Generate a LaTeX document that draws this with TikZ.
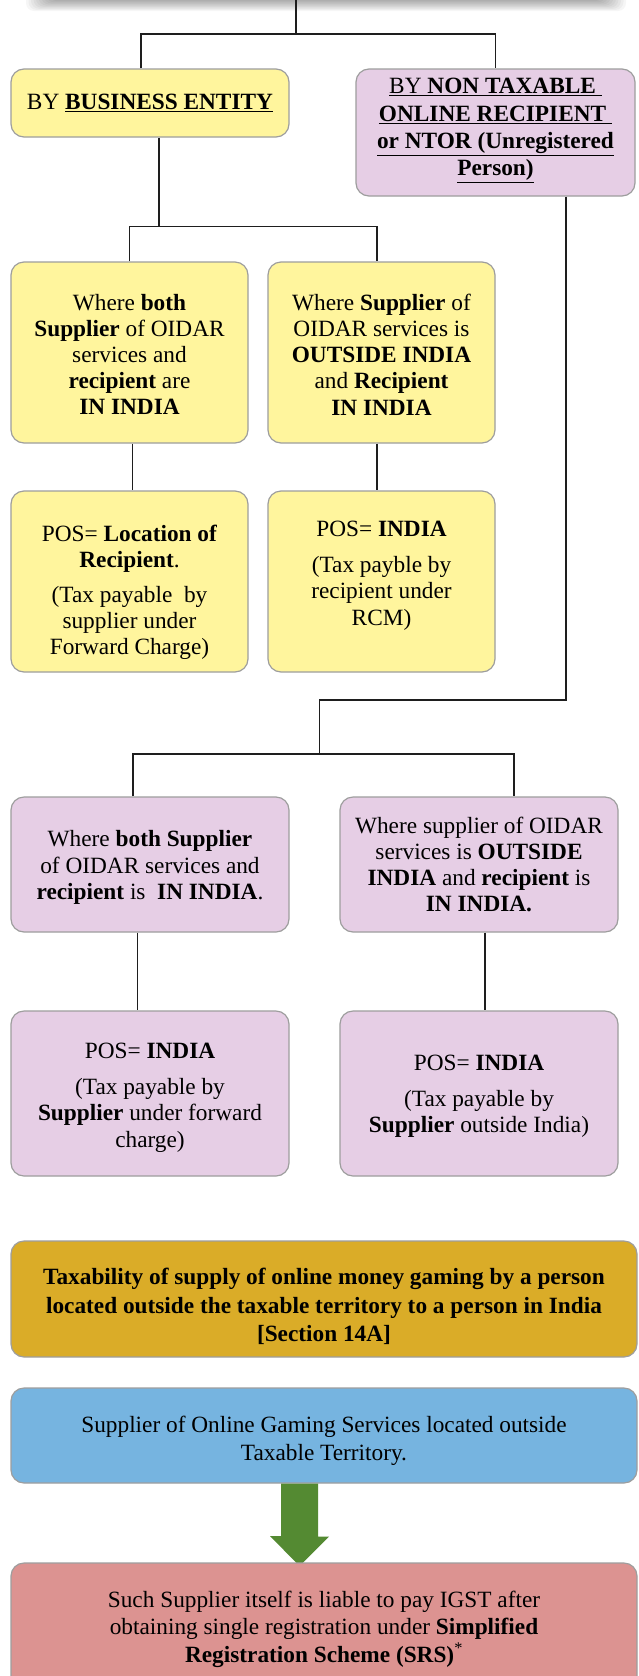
\documentclass[tikz,border=0pt]{standalone}
\usepackage{fontspec}
\setmainfont{Liberation Serif}
\newfontfamily\diagserif{Liberation Serif}
\definecolor{boxline}{RGB}{158,158,158}
\definecolor{wirecol}{RGB}{30,30,30}
\definecolor{yfill}{RGB}{255,245,157}
\definecolor{pfill}{RGB}{230,206,229}
\definecolor{gfill}{RGB}{218,172,40}
\definecolor{bfill}{RGB}{118,180,224}
\definecolor{rfill}{RGB}{220,147,145}
\definecolor{arrowgreen}{RGB}{84,138,50}
\newcommand{\bodyfont}{\diagserif\fontsize{23.3}{26.2}\selectfont}
\newcommand{\widefont}{\diagserif\fontsize{23.3}{28.2}\selectfont}
\begin{document}
\begin{tikzpicture}[x=1pt,y=-1pt,
  box/.style={draw=boxline,line width=1.2pt,rounded corners=13pt,inner sep=0pt},
  txt/.style={align=center,inner sep=0pt,font=\bodyfont},
  widetxt/.style={align=center,inner sep=0pt,font=\widefont},
  wire/.style={draw=wirecol,line width=1.3pt}]
\clip (0,0) rectangle (638,1676);
\useasboundingbox (0,0) rectangle (638,1676);
\fill[white] (0,0) rectangle (638,1676);

% soft shadow of the heading box above the page edge
\foreach \i in {0,...,9}
  \fill[black,opacity=0.035,rounded corners=8pt] (26+2.5*\i,-20) rectangle (626-2.5*\i,11-1.1*\i);

% first level
\coordinate (top) at (296,0);
\coordinate (j1) at (296,34);
\node[box,fill=yfill,minimum width=278pt,minimum height=68pt] (be) at (150,103) {};
\node[txt] (bet) at (150,103) {BY \underline{\textbf{BUSINESS ENTITY}}};
\node[box,fill=pfill,minimum width=279pt,minimum height=127pt] (ntor) at (495.5,132.5) {};
\node[txt,font=\diagserif\fontsize{23.3}{27.2}\selectfont] (ntort) at (495.5,130.5)
  {\underline{BY \textbf{NON TAXABLE }}\\ \underline{\textbf{ONLINE RECIPIENT }}\\
   \underline{\textbf{or NTOR (Unregistered}}\\ \underline{\textbf{Person)}}};

% business entity branch
\node[box,fill=yfill,minimum width=237pt,minimum height=181pt] (y1) at (129.5,352.5) {};
\node[txt] (y1t) at (129.5,354.5)
  {Where \textbf{both}\\ \textbf{Supplier} of OIDAR\\ services and\\ \textbf{recipient} are\\ \textbf{IN INDIA}};
\node[box,fill=yfill,minimum width=227pt,minimum height=181pt] (y2) at (381.5,352.5) {};
\node[txt] (y2t) at (381.5,354.5)
  {Where \textbf{Supplier} of\\ OIDAR services is\\ \textbf{OUTSIDE INDIA}\\ and \textbf{Recipient}\\ \textbf{IN INDIA}};
\node[box,fill=yfill,minimum width=237pt,minimum height=181pt] (y3) at (129.5,581.5) {};
\node[txt] (y3t) at (129.5,592.5)
  {POS= \textbf{Location of}\\ \textbf{Recipient}.\\[8pt] (Tax payable\ \ by\\ supplier under\\ Forward Charge)};
\node[box,fill=yfill,minimum width=227pt,minimum height=181pt] (y4) at (381.5,581.5) {};
\node[txt] (y4t) at (381.5,575.5)
  {POS= \textbf{INDIA}\\[10pt] (Tax payble by\\ recipient under\\ RCM)};

% NTOR branch
\node[box,fill=pfill,minimum width=278pt,minimum height=135pt] (p1) at (150,864.5) {};
\node[txt] (p1t) at (150,867.5)
  {Where \textbf{both Supplier}\\ of OIDAR services and\\ \textbf{recipient} is\ \ \textbf{IN INDIA}.};
\node[box,fill=pfill,minimum width=278pt,minimum height=135pt] (p2) at (479,864.5) {};
\node[txt] (p2t) at (479,864.5)
  {Where supplier of OIDAR\\ services is \textbf{OUTSIDE}\\ \textbf{INDIA} and \textbf{recipient} is\\ \textbf{IN INDIA.}};
\node[box,fill=pfill,minimum width=278pt,minimum height=165pt] (p3) at (150,1093.5) {};
\node[txt] (p3t) at (150,1097.5)
  {POS= \textbf{INDIA}\\[10pt] (Tax payable by\\ \textbf{Supplier} under forward\\ charge)};
\node[box,fill=pfill,minimum width=278pt,minimum height=165pt] (p4) at (479,1093.5) {};
\node[txt] (p4t) at (479,1096.5)
  {POS= \textbf{INDIA}\\[10pt] (Tax payable by\\ \textbf{Supplier} outside India)};

% connectors
\draw[wire] (top) -- (j1);
\draw[wire] ([xshift=-9pt]be.north) |- (j1) -| (ntor.north);
\coordinate (j2) at (159,226.5);
\draw[wire] ([xshift=9pt]be.south) -- (j2);
\draw[wire] (y1.north) |- (j2) -| ([xshift=-4.5pt]y2.north);
\draw[wire] ([xshift=3pt]y1.south) -- ([xshift=3pt]y3.north);
\draw[wire] ([xshift=-4.5pt]y2.south) -- ([xshift=-4.5pt]y4.north);
\coordinate (j3) at (566,700);
\coordinate (j4) at (319.5,754);
\draw[wire] ([xshift=70.5pt]ntor.south) -- (j3) -| (j4);
\draw[wire] ([xshift=-17pt]p1.north) |- (j4) -| ([xshift=35pt]p2.north);
\draw[wire] ([xshift=-12.5pt]p1.south) -- ([xshift=-12.5pt]p3.north);
\draw[wire] ([xshift=6pt]p2.south) -- ([xshift=6pt]p4.north);

% online gaming section
\node[box,fill=gfill,minimum width=626pt,minimum height=116pt] (gold) at (324,1299) {};
\node[widetxt] (goldt) at (324,1306.5)
  {\textbf{Taxability of supply of online money gaming by a person}\\
   \textbf{located outside the taxable territory to a person in India}\\ \textbf{[Section 14A]}};
\node[box,fill=bfill,minimum width=626pt,minimum height=95pt] (blue) at (324,1435.5) {};
\node[widetxt] (bluet) at (324,1441)
  {Supplier of Online Gaming Services located outside\\ Taxable Territory.};
\fill[arrowgreen] ([xshift=-43pt]blue.south) -- ([xshift=-6pt]blue.south) -- ++(0,53) -- ++(11,0)
  -- (299.5,1566) -- (270,1536) -- (281,1536) -- cycle;
\node[box,fill=rfill,minimum width=626pt,minimum height=128pt] (red) at (324,1627) {};
\node[widetxt,font=\diagserif\fontsize{23.3}{27.6}\selectfont] (redt) at (324,1629)
  {Such Supplier itself is liable to pay IGST after\\ obtaining single registration under \textbf{Simplified}\\
   \textbf{Registration Scheme (SRS)}\textsuperscript{*}};
\end{tikzpicture}
\end{document}
